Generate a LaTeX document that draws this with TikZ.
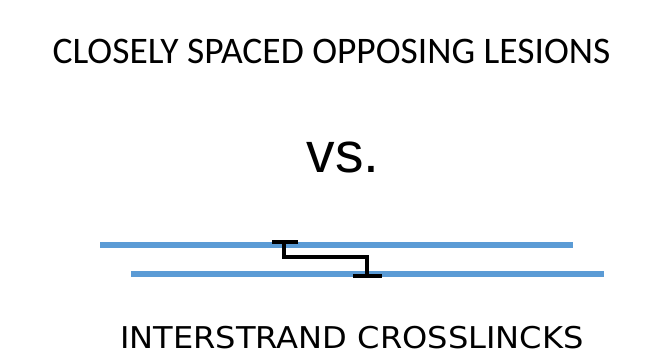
\documentclass[tikz,border=0pt]{standalone}
\usepackage{fontspec}
\newfontfamily\titlefont{Carlito}
\newfontfamily\vsfont{Liberation Sans}
\newfontfamily\labelfont[FakeStretch=1.07]{DejaVu Sans}
\definecolor{strandblue}{HTML}{5B9BD5}
\tikzset{
  strand/.style={draw=strandblue, line width=5.5pt},
  link/.style={draw=black, line width=3.6pt, line join=miter},
  capbar/.style={draw=black, line width=4pt},
  caption/.style={anchor=base, inner sep=0pt}
}
\begin{document}
\begin{tikzpicture}[x=1pt,y=-1pt]
  \useasboundingbox (0,0) rectangle (669,362);
  % headings
  \node[caption, font=\titlefont\fontsize{37.5}{40}\selectfont] (top) at (331.5,63) {CLOSELY SPACED OPPOSING LESIONS};
  \node[caption, font=\vsfont\fontsize{57}{60}\selectfont] (vs) at (343,172) {vs.};
  \node[caption, font=\labelfont\fontsize{30}{34}\selectfont] (bottom) at (352,348) {INTERSTRAND CROSSLINCKS};
  % the two strands
  \coordinate (s1a) at (100,245);
  \coordinate (s1b) at (573,245);
  \coordinate (s2a) at (131,274);
  \coordinate (s2b) at (604,274);
  \draw[strand] (s1a) -- (s1b);
  \draw[strand] (s2a) -- (s2b);
  % crosslink between the strands
  \coordinate (t1) at (272,242);
  \coordinate (t2) at (298,242);
  \coordinate (b1) at (353,276);
  \coordinate (b2) at (382,276);
  \coordinate (k1) at (284,242);
  \coordinate (k2) at (284,257);
  \coordinate (k3) at (367,257);
  \coordinate (k4) at (367,276);
  \draw[capbar] (t1) -- (t2);
  \draw[capbar] (b1) -- (b2);
  \draw[link] (k1) -- (k2) -- (k3) -- (k4);
\end{tikzpicture}
\end{document}
